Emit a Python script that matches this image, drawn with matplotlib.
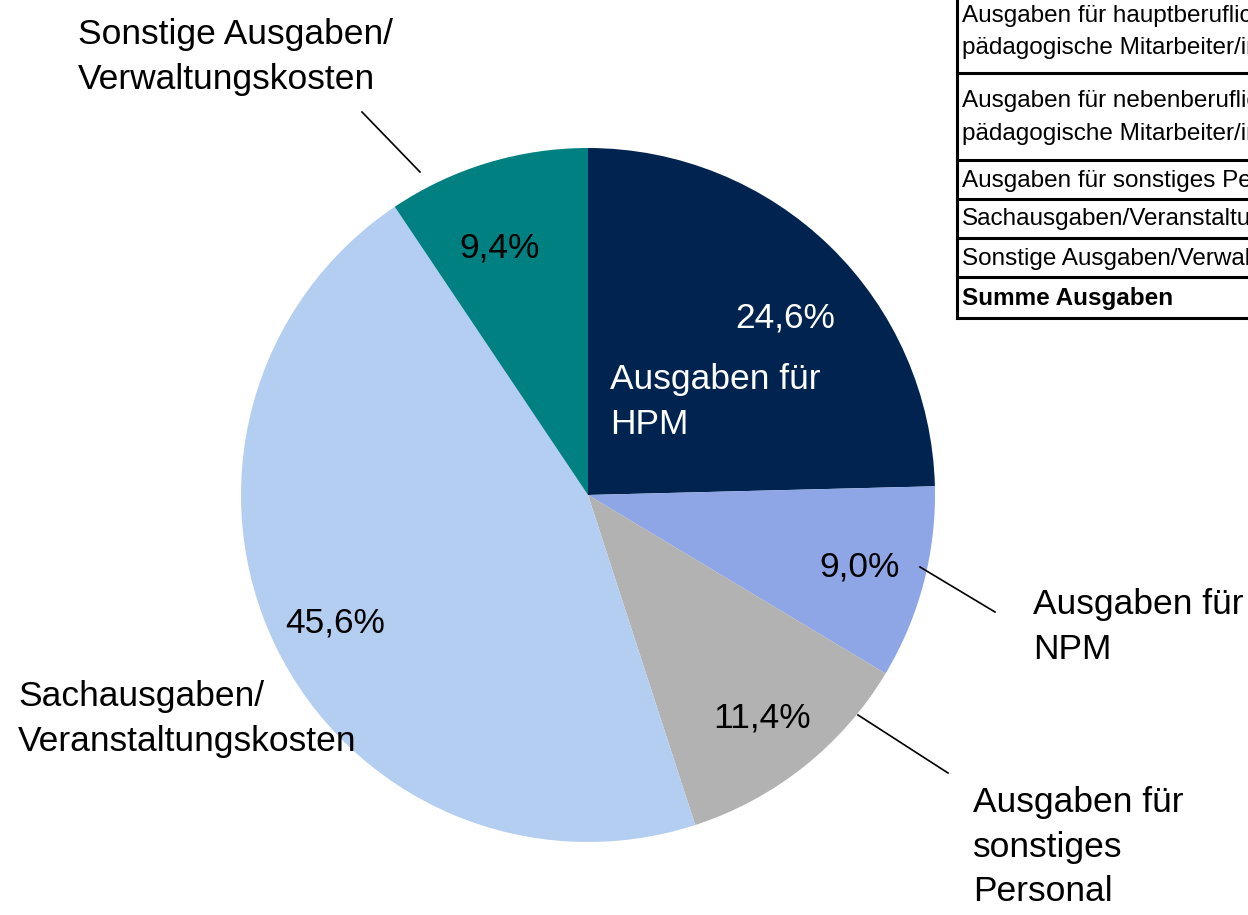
import matplotlib.pyplot as plt

# Daten
kategorien = ['Ausgaben für HPM', 'Ausgaben für NPM', 'Ausgaben für sonstiges Personal',
              'Sachausgaben/Veranstaltungskosten', 'Sonstige Ausgaben/Verwaltungskosten']
anteile = [24.6, 9.0, 11.4, 45.6, 9.4]
farben = ['#00244f', '#8ea6e6', '#b2b2b2', '#b3cef0', '#008080']

tabelle_zeilen = [
    'Ausgaben für hauptberufliche\npädagogische Mitarbeiter/innen',
    'Ausgaben für nebenberufliche\npädagogische Mitarbeiter/innen',
    'Ausgaben für sonstiges Personal',
    'Sachausgaben/Veranstaltungskosten',
    'Sonstige Ausgaben/Verwaltungskosten',
    'Summe Ausgaben',
]

plt.rcParams['font.family'] = ['Liberation Sans', 'DejaVu Sans']

W, H = 1248, 915
fig = plt.figure(figsize=(W / 100, H / 100), dpi=100)
ax = fig.add_axes([0, 0, 1, 1])


def Y(y):
    # Bildkoordinate (von oben) -> Achsenkoordinate
    return H - y


ax.pie(anteile, colors=farben, startangle=90, counterclock=False,
       center=(588, Y(495)), radius=347, wedgeprops=dict(linewidth=0))
ax.set_xlim(0, W)
ax.set_ylim(0, H)
ax.set_aspect('equal')
ax.axis('off')

fs = 25.5
ls = 1.45
pct = [f'{v:.1f}%'.replace('.', ',') for v in anteile]

# Prozentwerte
ax.text(785, Y(318), pct[0], color='white', fontsize=fs, ha='center', va='center')
ax.text(610, Y(402), 'Ausgaben für\nHPM', color='white', fontsize=fs, ha='left', va='center',
        linespacing=ls)
ax.text(860, Y(567), pct[1], fontsize=fs, ha='center', va='center')
ax.text(762, Y(718), pct[2], fontsize=fs, ha='center', va='center')
ax.text(335, Y(623), pct[3], fontsize=fs, ha='center', va='center')
ax.text(500, Y(248), pct[4], fontsize=fs, ha='center', va='center')

# Außenbeschriftungen
ax.text(78, Y(57), 'Sonstige Ausgaben/\nVerwaltungskosten', fontsize=fs, ha='left', va='center',
        linespacing=ls)
ax.plot([362, 420], [Y(112), Y(172)], color='black', lw=1.2)
ax.text(1033, Y(627), 'Ausgaben für\nNPM', fontsize=fs, ha='left', va='center', linespacing=ls)
ax.plot([920, 995], [Y(567), Y(612)], color='black', lw=1.2)
ax.text(973, Y(847), 'Ausgaben für\nsonstiges\nPersonal', fontsize=fs, ha='left', va='center',
        linespacing=ls)
ax.plot([858, 948], [Y(715), Y(773)], color='black', lw=1.2)
ax.text(18, Y(719), 'Sachausgaben/\nVeranstaltungskosten', fontsize=fs, ha='left', va='center',
        linespacing=ls)

# Tabelle (rechts oben, abgeschnitten)
grenzen = [-5, 73, 160, 199, 238, 277, 318]
x0 = 957
ax.plot([x0, x0], [Y(grenzen[0]), Y(grenzen[-1])], color='black', lw=2.2)
for g in grenzen[1:]:
    ax.plot([x0, W + 10], [Y(g), Y(g)], color='black', lw=2.2)
for i, zeile in enumerate(tabelle_zeilen):
    ym = (grenzen[i] + grenzen[i + 1]) / 2 + (-2 if i == 0 else 1)
    ax.text(962, Y(ym), zeile, fontsize=17.5, ha='left', va='center',
            fontweight='bold' if zeile.startswith('Summe') else 'normal',
            linespacing=1.6, clip_on=True)

plt.savefig('out.png', dpi=100)
